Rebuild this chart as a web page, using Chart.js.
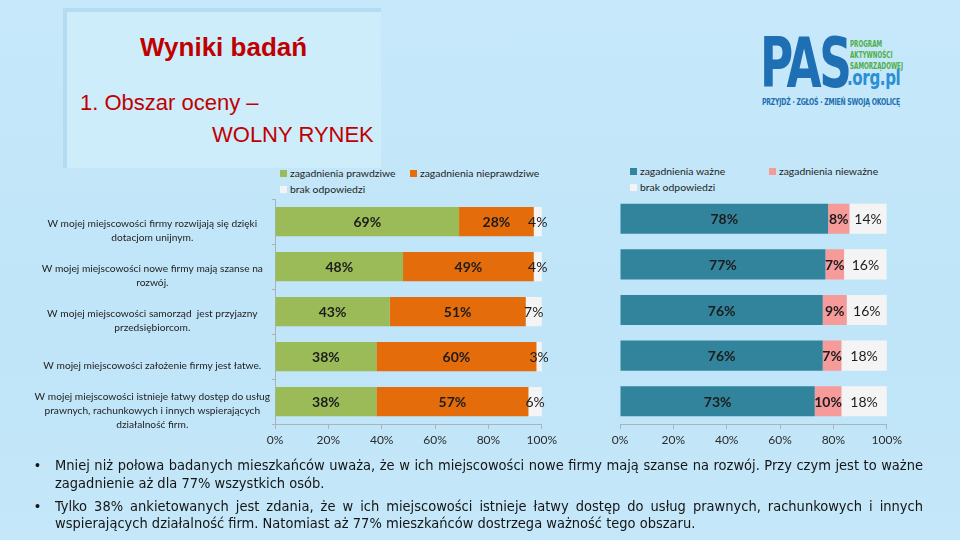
<!DOCTYPE html>
<html lang="pl">
<head>
<meta charset="utf-8">
<script src="https://cdn.jsdelivr.net/npm/chart.js@4.4.1/dist/chart.umd.min.js"></script>
<style>
  html, body { margin:0; padding:0; }
  body { width:960px; height:540px; overflow:hidden; position:relative;
         background: linear-gradient(180deg,#C6E8FA 0%,#C0E5F8 60%,#C4E7F9 100%);
         font-family: "Liberation Sans", Arial, sans-serif; }
  .abs { position:absolute; }
  #panel { left:63px; top:8px; width:314px; height:156px; background:#CDEDFB;
           border-left:4px solid #B3DBF1; border-top:4px solid #B3DBF1; }
  .red { color:#C00000; white-space:nowrap; }
  #t1 { left:140px; top:32px; font-size:26px; font-weight:bold; }
  #t2 { left:80px; top:90px; font-size:22px; }
  #t3 { left:212px; top:122px; font-size:22px; }
  .leg { font-family: Lato, "Open Sans", sans-serif; font-size:10.4px; color:#1e1e1e; white-space:nowrap; }
  .leg i { display:inline-block; width:7px; height:7px; margin-right:3px; vertical-align:0px; }
  #c1 { left:0; top:190px; width:561px; height:270px; }
  #c2 { left:600px; top:187px; width:306px; height:273px; }
  .txt { left:55px; width:868px; font-family:"Liberation Sans Narrow","Arial Narrow","DejaVu Sans Condensed",sans-serif;
         font-size:14.5px; color:#151515; white-space:nowrap; line-height:17px; }
  .just { text-align:justify; text-align-last:justify; }
  .bul { left:35px; font-size:14px; color:#151515; }
  .logo { font-family:"DejaVu Sans Condensed","Liberation Sans Narrow",sans-serif; font-weight:bold; white-space:nowrap; transform-origin:left top; }
</style>
</head>
<body>
<div id="panel" class="abs"></div>
<div id="t1" class="abs red">Wyniki badań</div>
<div id="t2" class="abs red">1. Obszar oceny –</div>
<div id="t3" class="abs red">WOLNY RYNEK</div>

<!-- logo -->
<div class="abs logo" style="left:760px;top:22px;font-size:70px;letter-spacing:-3px;color:#1F6FB5;transform:scaleX(0.72);">PAS</div>
<div class="abs logo" style="left:850px;top:39px;font-size:8px;line-height:11px;color:#4FAE47;transform:scaleX(0.78);">PROGRAM<br>AKTYWNOŚCI<br>SAMORZĄDOWEJ</div>
<div class="abs logo" style="left:847px;top:66px;font-size:21px;color:#2A8FD6;letter-spacing:-0.5px;transform:scaleX(0.8);">.org.pl</div>
<div class="abs logo" style="left:762px;top:96px;font-size:9.5px;color:#1E6FB0;letter-spacing:-0.3px;transform:scaleX(0.72);">PRZYJDŹ · ZGŁOŚ · ZMIEŃ SWOJĄ OKOLICĘ</div>

<div id="legL1" class="abs leg" style="left:280px;top:167px;"></div>
<div id="legL2" class="abs leg" style="left:410px;top:167px;"></div>
<div id="legL3" class="abs leg" style="left:280px;top:183px;"></div>
<div id="legR1" class="abs leg" style="left:630px;top:165px;"></div>
<div id="legR2" class="abs leg" style="left:769px;top:165px;"></div>
<div id="legR3" class="abs leg" style="left:630px;top:181px;"></div>

<div id="c1" class="abs"><canvas id="chartL"></canvas></div>
<div id="c2" class="abs"><canvas id="chartR"></canvas></div>

<div class="abs bul" style="top:457px;">•</div>
<div class="abs txt just" style="top:457px;">Mniej niż połowa badanych mieszkańców uważa, że w ich miejscowości nowe firmy mają szanse na rozwój. Przy czym jest to ważne</div>
<div class="abs txt" style="top:475px;">zagadnienie aż dla 77% wszystkich osób.</div>
<div class="abs bul" style="top:498px;">•</div>
<div class="abs txt just" style="top:498px;">Tylko 38% ankietowanych jest zdania, że w ich miejscowości istnieje łatwy dostęp do usług prawnych, rachunkowych i innych</div>
<div class="abs txt" style="top:515px;">wspierających działalność firm. Natomiast aż 77% mieszkańców dostrzega ważność tego obszaru.</div>

<script>
// ---- data ----
const categories = [
  ["W mojej miejscowości firmy rozwijają się dzięki", "dotacjom unijnym."],
  ["W mojej miejscowości nowe firmy mają szanse na", "rozwój."],
  ["W mojej miejscowości samorząd  jest przyjazny", "przedsiębiorcom."],
  ["W mojej miejscowości założenie firmy jest łatwe."],
  ["W mojej miejscowości istnieje łatwy dostęp do usług", "prawnych, rachunkowych i innych wspierających", "działalność firm."]
];
const seriesLeftNames = ["zagadnienia prawdziwe", "zagadnienia nieprawdziwe", "brak odpowiedzi"];
const prawdziwe    = [69, 48, 43, 38, 38];
const nieprawdziwe = [28, 49, 51, 60, 57];
const brakLeft     = [4, 4, 7, 3, 6];
const seriesRightNames = ["zagadnienia ważne", "zagadnienia nieważne", "brak odpowiedzi"];
const wazne        = [78, 77, 76, 76, 73];
const niewazne     = [8, 7, 9, 7, 10];
const brakRight    = [14, 16, 16, 18, 18];
const xTickValues  = [0, 20, 40, 60, 80, 100];

const colLeft  = ["#9BBB59", "#E46C0A", "#F4F4F4"];
const colRight = ["#31849B", "#F79A9A", "#F4F4F4"];

// ---- legends (html) ----
function leg(id, color, text){ document.getElementById(id).innerHTML = '<i style="background:'+color+'"></i>' + text; }
leg('legL1', colLeft[0], seriesLeftNames[0]);
leg('legL2', colLeft[1], seriesLeftNames[1]);
leg('legL3', colLeft[2], seriesLeftNames[2]);
leg('legR1', colRight[0], seriesRightNames[0]);
leg('legR2', colRight[1], seriesRightNames[1]);
leg('legR3', colRight[2], seriesRightNames[2]);

// ---- value labels plugin ----
const valueLabels = {
  id: 'valueLabels',
  afterDatasetsDraw(chart) {
    const { ctx, chartArea } = chart;
    chart.data.datasets.forEach((ds, di) => {
      const meta = chart.getDatasetMeta(di);
      meta.data.forEach((el, i) => {
        const a = Math.min(el.base, chartArea.right), b = Math.min(el.x, chartArea.right);
        const cx = (a + b) / 2;
        ctx.save();
        ctx.font = ds.labelFont;
        ctx.fillStyle = '#1c1c1c';
        ctx.textAlign = 'center';
        ctx.textBaseline = 'middle';
        ctx.fillText(ds.data[i] + '%', cx, el.y + 1);
        ctx.restore();
      });
    });
  }
};

const boldF = 'bold 14px Lato, "Open Sans", sans-serif';
const normF = '14px Lato, "Open Sans", sans-serif';

function xScale() {
  return {
    type: 'linear', stacked: true, min: 0, max: 100,
    afterBuildTicks: s => { s.ticks = xTickValues.map(v => ({ value: v })); },
    afterFit: s => { s.height = 36; },
    grid: { drawOnChartArea: false, tickLength: 5, color: '#A9B4BA' },
    border: { display: true, color: '#A9B4BA' },
    ticks: { padding: 4, color: '#2a2a2a', font: { family: 'Lato, "Open Sans", sans-serif', size: 12 },
             callback: v => v + '%' }
  };
}

Chart.defaults.animation = false;

new Chart(document.getElementById('chartL'), {
  type: 'bar',
  data: {
    labels: categories,
    datasets: [
      { label: seriesLeftNames[0], data: prawdziwe, backgroundColor: colLeft[0], labelFont: boldF },
      { label: seriesLeftNames[1], data: nieprawdziwe, backgroundColor: colLeft[1], labelFont: boldF },
      { label: seriesLeftNames[2], data: brakLeft, backgroundColor: colLeft[2], labelFont: normF }
    ]
  },
  options: {
    indexAxis: 'y', responsive: true, maintainAspectRatio: false,
    layout: { padding: { top: 9, right: 14, left: 0, bottom: 0 } },
    datasets: { bar: { barPercentage: 0.65, categoryPercentage: 1 } },
    plugins: { legend: { display: false }, tooltip: { enabled: false } },
    scales: {
      x: xScale(),
      y: {
        stacked: true,
        afterFit: s => { s.width = 275; s.paddingTop = 0; s.paddingBottom = 0; },
        grid: { drawOnChartArea: false, tickLength: 3, color: '#A9B4BA', offset: true },
        border: { display: true, color: '#A9B4BA' },
        ticks: { autoSkip: false, crossAlign: 'center', padding: 2, labelOffset: 9, color: '#1e1e1e',
                 font: { family: 'Lato, "Open Sans", sans-serif', size: 10.2, lineHeight: 1.38 } }
      }
    }
  },
  plugins: [valueLabels]
});

new Chart(document.getElementById('chartR'), {
  type: 'bar',
  data: {
    labels: categories,
    datasets: [
      { label: seriesRightNames[0], data: wazne, backgroundColor: colRight[0], labelFont: boldF },
      { label: seriesRightNames[1], data: niewazne, backgroundColor: colRight[1], labelFont: boldF },
      { label: seriesRightNames[2], data: brakRight, backgroundColor: colRight[2], labelFont: normF }
    ]
  },
  options: {
    indexAxis: 'y', responsive: true, maintainAspectRatio: false,
    layout: { padding: { top: 9, right: 14, left: 20, bottom: 0 } },
    datasets: { bar: { barPercentage: 0.66, categoryPercentage: 1 } },
    plugins: { legend: { display: false }, tooltip: { enabled: false } },
    scales: {
      x: xScale(),
      y: { stacked: true, display: false }
    }
  },
  plugins: [valueLabels]
});
</script>
</body>
</html>
